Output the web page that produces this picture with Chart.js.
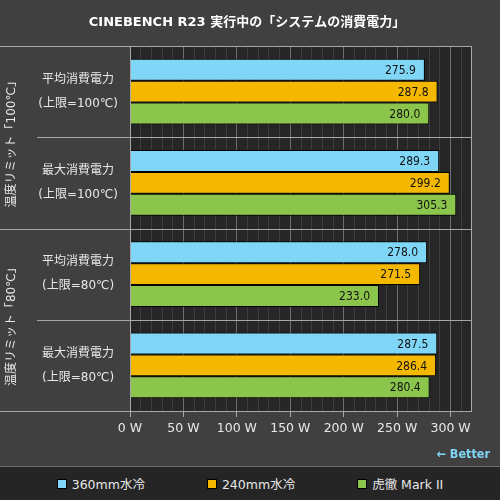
<!DOCTYPE html>
<html>
<head>
<meta charset="utf-8">
<script src="https://cdn.jsdelivr.net/npm/chart.js@4"></script>
<style>
  html, body { margin: 0; padding: 0; background: #404040; }
  #wrap { position: relative; width: 500px; height: 466px; }
  #legend {
    width: 500px; height: 33px; border-top: 1px solid #6e6e6e; background: #252525;
    display: flex; justify-content: center; align-items: center; gap: 62px;
    font: 12.5px "DejaVu Sans", "Noto Sans CJK JP", sans-serif; color: #e8e8e8;
  }
  .item { display: flex; align-items: center; }
  .box { width: 8px; height: 8px; border: 1px solid #000; margin-right: 5px; }
</style>
</head>
<body>
<div id="wrap"><canvas id="myChart"></canvas></div>
<div id="legend"></div>
<script>
var FONT = "'DejaVu Sans', 'Noto Sans CJK JP', sans-serif";

var titleText = "CINEBENCH R23 実行中の「システムの消費電力」";
var groups = ["温度リミット「100℃」", "温度リミット「80℃」"];
var categories = [
    ["平均消費電力", "(上限=100℃)"],
    ["最大消費電力", "(上限=100℃)"],
    ["平均消費電力", "(上限=80℃)"],
    ["最大消費電力", "(上限=80℃)"]
];
var seriesNames = ["360mm水冷", "240mm水冷", "虎徹 Mark II"];
var seriesColors = ["#7fd6f7", "#f5b800", "#8bc54b"];
var water360 = [275.9, 289.3, 278.0, 287.5];
var water240 = [287.8, 299.2, 271.5, 286.4];
var kotetsu = [280.0, 305.3, 233.0, 280.4];
var xTicks = [0, 50, 100, 150, 200, 250, 300];

var boxes = {
    id: "boxes",
    beforeDraw: function(chart) {
        var c = chart.ctx, a = chart.chartArea;
        c.save();
        c.fillStyle = "#404040";
        c.fillRect(0, 0, chart.width, chart.height);
        c.fillStyle = "#262626";
        c.fillRect(a.left, a.top, a.right - a.left, a.bottom - a.top);
        c.restore();
    },
    afterDraw: function(chart) {
        var c = chart.ctx, a = chart.chartArea, y = chart.scales.y;
        c.save();
        c.strokeStyle = "#a8a8a8";
        c.lineWidth = 1;
        function hline(x0, py) {
            c.beginPath(); c.moveTo(x0, Math.round(py) + 0.5); c.lineTo(a.right, Math.round(py) + 0.5); c.stroke();
        }
        hline(0, a.top);
        hline(0, a.bottom);
        for (var k = 0; k < categories.length - 1; k++) {
            var py = (y.getPixelForValue(k) + y.getPixelForValue(k + 1)) / 2;
            hline(k % 2 === 1 ? 0 : 37, py);
        }
        c.beginPath();
        c.moveTo(Math.round(a.left) + 0.5, a.top); c.lineTo(Math.round(a.left) + 0.5, a.bottom);
        c.moveTo(Math.round(a.right) - 0.5, a.top); c.lineTo(Math.round(a.right) - 0.5, a.bottom);
        c.stroke();

        // group labels, vertical
        c.fillStyle = "#e8e8e8";
        c.font = "12px " + FONT;
        c.textAlign = "center";
        c.textBaseline = "middle";
        groups.forEach(function(g, i) {
            var cy = (y.getPixelForValue(2 * i) + y.getPixelForValue(2 * i + 1)) / 2 + 4;
            c.save();
            c.translate(12, cy);
            c.rotate(-Math.PI / 2);
            c.fillText(g, 0, 0);
            c.restore();
        });

        // better arrow
        c.fillStyle = "#7fd6f7";
        c.font = "bold 12.5px 'DejaVu Sans Condensed', " + FONT;
        c.textAlign = "right";
        c.fillText("← Better", 490, 455);
        c.restore();
    },
    afterDatasetsDraw: function(chart) {
        var c = chart.ctx;
        c.save();
        c.fillStyle = "#111";
        c.font = "12px 'DejaVu Sans Condensed', " + FONT;
        c.textAlign = "right";
        c.textBaseline = "middle";
        chart.data.datasets.forEach(function(ds, i) {
            chart.getDatasetMeta(i).data.forEach(function(bar, j) {
                c.fillText(ds.data[j].toFixed(1), bar.x - 9, bar.y + 1);
            });
        });
        c.restore();
    }
};

var ctx = document.getElementById("myChart");

var data = {
    labels: categories,
    datasets: [water360, water240, kotetsu].map(function(vals, i) {
        return {
            label: seriesNames[i],
            data: vals,
            backgroundColor: seriesColors[i],
            borderColor: "#000",
            borderWidth: 1,
            categoryPercentage: 0.72,
            barPercentage: 1.0
        };
    })
};

var options = {
    indexAxis: "y",
    responsive: true,
    maintainAspectRatio: false,
    animation: false,
    layout: { padding: { left: 0, right: 6, top: 0, bottom: 26 } },
    plugins: {
        legend: { display: false },
        tooltip: { enabled: false },
        title: {
            display: true,
            text: titleText,
            color: "#ffffff",
            font: { family: FONT, size: 13, weight: "bold" },
            padding: { top: 15, bottom: 15.4 }
        }
    },
    scales: {
        x: {
            min: 0,
            max: 320,
            border: { display: false },
            grid: {
                color: function(c) { return c.tick.value % 50 === 0 ? "#6e6e6e" : "#3e3e3e"; },
                tickColor: function(c) { return c.tick.value % 50 === 0 ? "#a8a8a8" : "rgba(0,0,0,0)"; },
                tickLength: 6
            },
            ticks: {
                stepSize: 10,
                autoSkip: false,
                maxRotation: 0,
                padding: 4,
                color: "#e8e8e8",
                font: { family: FONT, size: 12.5 },
                callback: function(v) { return xTicks.indexOf(v) >= 0 ? v + " W" : ""; }
            }
        },
        y: {
            border: { display: false },
            grid: { display: false },
            afterFit: function(s) { s.width = 130; },
            ticks: {
                color: "#e8e8e8",
                padding: 4,
                crossAlign: "center",
                font: { family: FONT, size: 12, lineHeight: 24 / 12 }
            }
        },
        yRight: {
            position: "right",
            border: { display: false },
            grid: { display: false },
            ticks: { display: false },
            afterFit: function(s) { s.width = 22; }
        }
    }
};

var myChart = new Chart(ctx, {
    type: "bar",
    data: data,
    options: options,
    plugins: [boxes]
});

// html legend
var legend = document.getElementById("legend");
seriesNames.forEach(function(name, i) {
    var item = document.createElement("div");
    item.className = "item";
    var box = document.createElement("span");
    box.className = "box";
    box.style.background = seriesColors[i];
    var txt = document.createElement("span");
    txt.textContent = name;
    item.appendChild(box);
    item.appendChild(txt);
    legend.appendChild(item);
});
</script>
</body>
</html>
